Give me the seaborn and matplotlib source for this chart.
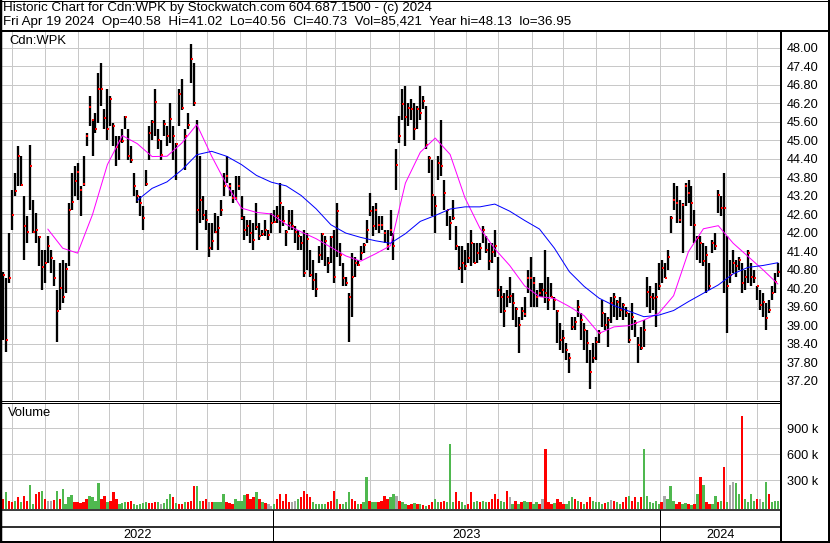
import numpy as np
import pandas as pd
import matplotlib
matplotlib.use("Agg")
import matplotlib.pyplot as plt
import seaborn as sns
from matplotlib.lines import Line2D

# ---------------- data (one bar per 2 trading days) ----------------
high = [40.74, 40.53, 41.99, 43.40, 43.94, 44.81, 44.48, 43.18, 42.53, 44.86,
        43.07, 42.64, 41.88, 41.45, 41.45, 41.88, 41.45, 41.12, 40.15, 41.01,
        41.12, 41.01, 42.96, 43.94, 44.16, 44.26, 43.51, 44.48, 45.24, 46.43,
        45.67, 45.89, 47.19, 47.51, 46.00, 46.65, 46.43, 45.56, 45.13, 45.13,
        45.35, 45.78, 45.35, 44.81, 43.94, 43.40, 43.18, 42.86, 44.05, 45.46,
        45.67, 46.65, 45.35, 45.02, 45.67, 45.46, 46.22, 45.46, 44.91, 46.65,
        46.97, 45.35, 45.89, 48.11, 47.51, 45.67, 44.48, 43.18, 42.75, 42.32,
        42.32, 42.64, 42.53, 43.07, 43.94, 44.48, 43.61, 43.40, 43.83, 43.83,
        43.18, 42.53, 42.42, 42.42, 42.32, 42.96, 42.32, 42.10, 42.42, 42.10,
        42.64, 42.75, 42.86, 43.61, 42.86, 42.10, 42.75, 42.75, 42.21, 42.10,
        41.88, 42.10, 41.99, 41.45, 41.12, 40.69, 41.56, 41.99, 41.88, 41.23,
        41.88, 42.10, 42.96, 41.66, 41.01, 40.58, 40.04, 41.34, 41.23, 41.12,
        41.56, 41.66, 42.42, 43.29, 42.86, 42.96, 42.53, 42.53, 42.10, 42.10,
        42.75, 41.99, 44.70, 45.78, 46.65, 46.75, 46.22, 46.32, 46.22, 46.11,
        46.75, 46.43, 46.11, 44.48, 44.37, 43.18, 44.48, 45.67, 43.72, 42.75,
        42.53, 43.07, 42.21, 41.56, 41.56, 41.45, 41.66, 42.10, 41.66, 41.66,
        41.66, 42.21, 41.88, 41.66, 41.66, 42.10, 41.23, 40.26, 40.04, 40.15,
        40.58, 40.04, 39.61, 39.28, 39.61, 39.93, 40.80, 41.23, 40.58, 40.15,
        40.37, 40.37, 41.45, 40.58, 40.37, 39.93, 39.50, 39.07, 38.85, 38.42,
        38.09, 39.28, 39.28, 39.82, 39.39, 39.07, 38.85, 38.20, 38.42, 38.63,
        38.85, 39.82, 39.39, 39.28, 39.93, 40.04, 39.82, 39.93, 39.72, 39.61,
        39.39, 39.72, 39.17, 38.63, 38.96, 39.17, 40.58, 40.26, 40.04, 40.37,
        41.01, 41.12, 41.01, 41.45, 42.53, 43.61, 43.51, 43.07, 42.96, 43.61,
        43.72, 43.51, 42.75, 41.88, 41.88, 41.66, 41.56, 41.01, 41.77, 41.99,
        43.40, 43.18, 43.94, 41.88, 41.12, 41.45, 41.12, 41.23, 41.01, 40.80,
        41.45, 41.01, 40.80, 40.26, 40.15, 40.04, 39.72, 39.82, 40.26, 40.69,
        41.02]
low = [38.52, 38.15, 40.37, 42.10, 43.18, 43.51, 43.51, 41.12, 41.66, 42.75,
       41.99, 41.66, 40.91, 40.15, 40.37, 41.01, 40.69, 40.26, 38.47, 39.50,
       39.72, 40.04, 40.91, 42.75, 43.18, 43.07, 42.53, 43.51, 44.81, 45.46,
       44.48, 45.24, 45.56, 46.11, 45.35, 45.02, 45.46, 44.81, 44.16, 44.37,
       44.91, 45.35, 44.37, 44.26, 43.18, 42.97, 42.53, 42.10, 43.51, 44.37,
       45.02, 45.13, 44.70, 44.37, 45.13, 44.81, 44.91, 44.37, 43.72, 45.46,
       45.97, 44.05, 45.35, 46.86, 46.11, 41.45, 42.32, 42.42, 42.10, 41.23,
       41.45, 41.99, 41.45, 42.53, 43.18, 43.61, 43.18, 42.96, 43.07, 43.40,
       42.42, 41.77, 41.88, 41.66, 41.45, 42.10, 41.77, 41.88, 41.88, 41.77,
       41.99, 42.32, 42.32, 41.99, 42.21, 41.56, 42.10, 42.10, 41.66, 41.45,
       41.45, 40.58, 40.80, 40.58, 40.15, 39.93, 41.01, 41.12, 40.91, 40.69,
       41.01, 40.37, 41.23, 40.91, 40.26, 40.26, 38.47, 39.28, 40.58, 40.91,
       41.12, 41.34, 41.66, 42.53, 41.88, 42.10, 41.99, 42.10, 41.66, 41.45,
       41.88, 41.12, 43.40, 44.91, 45.67, 44.81, 45.46, 45.67, 45.02, 45.35,
       45.67, 46.00, 44.70, 43.94, 42.53, 41.99, 43.72, 43.83, 42.75, 42.21,
       41.77, 42.42, 41.45, 40.80, 40.37, 40.80, 41.01, 40.91, 41.01, 41.01,
       41.12, 41.66, 41.34, 40.80, 41.01, 41.23, 39.93, 39.39, 38.96, 39.61,
       39.72, 39.17, 38.96, 38.09, 39.17, 39.28, 40.04, 39.61, 39.61, 39.61,
       39.93, 39.93, 39.72, 39.50, 39.93, 39.50, 38.42, 38.20, 38.09, 37.88,
       37.44, 38.85, 38.85, 39.28, 38.53, 38.20, 37.77, 36.95, 37.77, 37.88,
       38.42, 38.96, 38.85, 38.31, 39.07, 39.28, 39.17, 39.28, 39.17, 39.28,
       38.42, 38.85, 38.63, 37.77, 38.20, 38.31, 39.61, 39.39, 39.50, 38.96,
       40.15, 40.37, 40.53, 40.80, 41.99, 42.75, 42.32, 42.32, 41.34, 42.86,
       42.96, 42.21, 41.66, 41.12, 41.01, 40.91, 40.04, 40.15, 41.34, 41.45,
       42.64, 42.53, 40.04, 38.74, 40.37, 40.69, 40.58, 40.80, 40.04, 40.15,
       40.37, 40.26, 40.37, 39.82, 39.50, 39.28, 38.85, 39.39, 39.82, 40.04,
       40.56]
close = [40.64, 38.52, 40.53, 42.59, 43.37, 44.48, 43.56, 42.21, 42.04, 44.16,
         42.02, 42.10, 41.85, 40.88, 41.01, 41.56, 41.18, 40.53, 39.47, 40.22,
         39.93, 40.82, 42.75, 42.99, 43.67, 43.96, 43.40, 43.59, 45.15, 46.07,
         45.65, 45.35, 46.65, 46.65, 45.73, 45.35, 46.35, 45.46, 44.78, 44.97,
         44.97, 45.76, 44.48, 44.37, 43.51, 43.18, 42.96, 42.48, 43.59, 45.24,
         45.60, 46.24, 45.02, 44.53, 45.51, 45.13, 45.69, 45.13, 44.89, 46.49,
         46.05, 45.13, 45.48, 47.62, 46.21, 42.75, 43.07, 42.59, 42.42, 41.50,
         41.72, 42.04, 42.15, 42.75, 43.51, 43.83, 43.51, 43.13, 43.13, 43.51,
         42.48, 42.10, 42.21, 41.99, 41.77, 42.18, 41.88, 41.97, 42.10, 41.94,
         42.32, 42.34, 42.53, 42.96, 42.37, 42.04, 42.32, 42.21, 42.02, 41.88,
         41.66, 40.69, 41.79, 40.64, 40.47, 40.17, 41.29, 41.97, 41.72, 41.01,
         41.86, 40.56, 42.69, 41.29, 40.53, 40.37, 39.93, 40.58, 41.01, 40.96,
         41.34, 41.61, 42.10, 42.69, 42.21, 42.75, 42.26, 42.26, 41.99, 41.56,
         42.10, 41.56, 44.21, 45.13, 46.16, 45.76, 46.05, 46.00, 45.37, 46.00,
         45.89, 46.27, 44.83, 44.43, 43.23, 42.86, 44.26, 44.16, 43.29, 42.75,
         42.32, 42.48, 41.56, 40.85, 41.01, 40.91, 41.18, 41.66, 41.01, 41.34,
         41.50, 42.10, 41.45, 41.07, 41.39, 41.56, 40.15, 39.93, 39.45, 39.93,
         39.96, 39.72, 39.52, 39.01, 39.45, 39.37, 40.53, 40.53, 40.37, 39.93,
         40.04, 40.15, 40.04, 39.82, 39.93, 39.82, 39.47, 38.52, 38.58, 38.20,
         37.93, 38.96, 39.12, 39.61, 39.17, 38.85, 38.42, 37.50, 37.93, 38.47,
         38.74, 39.39, 39.01, 39.17, 39.72, 39.93, 39.77, 39.50, 39.66, 39.39,
         38.52, 39.28, 39.07, 38.36, 38.25, 38.85, 40.09, 39.93, 39.88, 39.93,
         40.28, 40.85, 40.53, 41.23, 42.48, 43.07, 42.96, 42.42, 42.91, 43.51,
         43.29, 42.96, 42.26, 41.83, 41.66, 41.07, 41.29, 40.26, 41.66, 41.56,
         43.23, 42.80, 42.80, 40.26, 40.64, 41.01, 40.91, 41.12, 40.37, 40.58,
         41.34, 40.58, 40.53, 40.26, 39.66, 39.77, 39.23, 39.50, 40.04, 40.42,
         40.73]
volume_k = [85, 162, 65, 46, 65, 104, 46, 123, 65, 246, 27, 142, 162, 181, 85, 65, 65, 77, 181, 85,
            200, 27, 104, 131, 46, 46, 38, 54, 85, 123, 104, 65, 270, 85, 123, 46, 65, 162, 85, 27,
            38, 54, 46, 65, 27,
            15, 27, 38, 46, 38, 38, 46, 46, 27, 38, 85, 142, 104, 38, 27, 27, 46, 46, 65, 239,
            239, 65, 65, 85, 46, 46, 46, 46, 46, 142, 46, 38, 27, 85, 65, 65, 131, 142, 85, 104,
            162, 85, 46,
            38, 27, 8, 27, 85, 142, 65, 142, 46, 46, 65, 85, 104, 181, 142, 104, 46, 27, 27, 27,
            27, 46, 65, 181, 85, 27, 27, 46, 162, 85, 65, 27, 27, 46, 335, 65, 46, 46, 46, 65,
            123, 85, 104, 142, 123, 65, 46, 27, 15, 27,
            38, 27, 27, 15, 8, 15, 46, 85, 46, 46, 65, 46, 720, 46, 162, 65, 46, 15, 27, 162,
            46, 65, 46, 65, 46, 46, 85, 142, 85, 65, 46, 181, 104, 27, 65, 27, 46, 65, 54, 46,
            27, 46, 27, 85, 662, 46, 27, 38, 85, 46, 27, 27, 65, 104, 85, 65, 46, 27, 46, 104,
            65, 46, 46, 27, 38, 46, 77, 65, 46, 27, 46, 104, 123, 65, 104, 46, 104, 662, 123, 46,
            38, 65, 27, 46, 123, 85, 239, 65, 27, 46, 27, 38, 27, 15, 27, 142, 335, 246, 46, 27,
            27, 123, 46, 65, 450, 46, 246, 277, 270, 142, 1047, 85, 54, 142, 65, 85, 85, 46, 277, 142,
            46, 65, 65]
# g = up day, r = down day, n = unchanged
volume_dir = ("rgrrgrgrrg" "grrgrnnrgr" "ggggrrrrrg" "gggrrgrrrg" "ggrrgggggr"
              "rrgngggrgr" "rgrrrggrrn" "rggggrrrgg" "ggrrrgrgrn" "ngrrrrrnng"
              "rrrrgggggr" "rrgrgggrrg" "rggrggrrrr" "ggnrggrrgr" "grgrrggrrg"
              "ggrrggrrgg" "rggrrrrggr" "ngrgrggrgg" "rnrrrgrrrg" "ggrgrgrrgg"
              "ggrgnrggrr" "grrgrggggg" "grngggrrgg" "rgrgrgrrgg" "rgrgnnggrg"
              "gggrnggrgg" "g")
# moving averages, one reading every 5 bars
ma_short = [42.12, 41.50, 41.34, 42.59, 44.21, 45.15, 44.89, 44.47, 44.48, 44.91,
            45.51, 44.48, 43.56, 42.80, 42.66, 42.61, 42.27, 42.03, 41.81, 41.53,
            41.25, 41.08, 41.32, 41.58, 43.61, 44.61, 45.07, 44.54, 43.13, 42.15,
            41.48, 40.94, 40.28, 39.93, 39.87, 39.61, 39.31, 38.74, 38.95, 38.99,
            39.17, 39.39, 39.96, 41.39, 42.13, 42.23, 41.66, 41.23, 40.80, 40.34]
ma_long = [43.05, 43.44, 43.65, 44.04, 44.53, 44.64, 44.48, 44.21, 43.86, 43.64,
           43.52, 43.21, 42.78, 42.26, 41.99, 41.85, 41.74, 41.66, 41.97, 42.37,
           42.56, 42.77, 42.84, 42.84, 42.93, 42.70, 42.40, 42.12, 41.50, 40.74,
           40.26, 39.88, 39.64, 39.46, 39.28, 39.33, 39.48, 39.77, 40.04, 40.31,
           40.67, 40.88, 40.94, 41.03]
ma_short_first_bar = 15
ma_long_first_bar = 45
ma_every = 5

price_ticks = [48.00, 47.40, 46.80, 46.20, 45.60, 45.00, 44.40, 43.80, 43.20, 42.60,
               42.00, 41.40, 40.80, 40.20, 39.60, 39.00, 38.40, 37.80, 37.20]
volume_ticks = [300, 600, 900]
volume_tick_labels = ["300 k", "600 k", "900 k"]
header1 = "Historic Chart for Cdn:WPK by Stockwatch.com 604.687.1500 - (c) 2024"
header2 = ("Fri Apr 19 2024  Op=40.58  Hi=41.02  Lo=40.56  Cl=40.73  "
           "Vol=85,421  Year hi=48.13  lo=36.95")
symbol = "Cdn:WPK"
last_day = "2024-04-19"

N = len(close)
assert len(high) == N and len(low) == N and len(volume_k) == N and len(volume_dir) == N

# trading-day axis: bar k = every second business day ending at last_day
all_days = pd.bdate_range(end=last_day, periods=2 * N - 1)
xb = np.arange(N)
month_pos = [i / 2 for i in range(1, len(all_days)) if all_days[i].month != all_days[i - 1].month]
year_pos = [i / 2 for i in range(1, len(all_days)) if all_days[i].year != all_days[i - 1].year]
years = sorted(set(all_days.year))

# ---------------- figure ----------------
sns.set_style("white")
plt.rcParams["font.family"] = ["Liberation Sans", "DejaVu Sans"]
W, H = 830, 543
fig = plt.figure(figsize=(W / 100, H / 100), dpi=100)
PX = 0.72  # points per pixel


def box(x0, y0, x1, y1):
    return [x0 / W, 1 - y1 / H, (x1 - x0) / W, (y1 - y0) / H]


XL = ((2 - 3.1) / 2.98, (781 - 3.1) / 2.98)
GRID = "#c8c8c8"
FS = 9.2
FS_HEAD = 9.6

# price panel
ax = fig.add_axes(box(2, 31, 781, 400))
ax.set_xlim(*XL)
ax.set_ylim(36.58, 48.54)
ax.set_yticks(price_ticks)
ax.set_yticklabels([f"{t:.2f}" for t in price_ticks])
ax.yaxis.tick_right()
ax.set_xticks(month_pos)
ax.tick_params(axis="x", length=0, labelbottom=False)
ax.tick_params(axis="y", length=0, pad=6 * PX, labelsize=FS, labelcolor="black")
ax.grid(True, color=GRID, lw=1 * PX)
ax.set_axisbelow(True)
for s in ax.spines.values():
    s.set_visible(False)

ax.vlines(xb, low, high, color="black", lw=2.3 * PX, zorder=2)
sns.scatterplot(x=xb + 0.3, y=close, marker="s", s=2.4, color="#ff0000",
                linewidth=0, ax=ax, zorder=3)
xs = np.arange(ma_short_first_bar, N, ma_every)[:len(ma_short)]
xl = np.arange(ma_long_first_bar, N, ma_every)[:len(ma_long)]
sns.lineplot(x=xs, y=ma_short, color="#ff00ff", lw=1.0 * PX, ax=ax, estimator=None, zorder=4)
sns.lineplot(x=xl, y=ma_long, color="#0000ff", lw=1.0 * PX, ax=ax, estimator=None, zorder=4)
ax.set_xlabel("")
ax.set_ylabel("")

# volume panel
av = fig.add_axes(box(2, 403, 781, 509))
av.set_xlim(*XL)
vbottom = -31
av.set_ylim(vbottom, 1192)
av.set_yticks(volume_ticks)
av.set_yticklabels(volume_tick_labels)
av.yaxis.tick_right()
av.set_xticks(month_pos)
av.tick_params(axis="x", length=0, labelbottom=False)
av.tick_params(axis="y", length=0, pad=6 * PX, labelsize=FS, labelcolor="black")
av.grid(True, color=GRID, lw=1 * PX)
av.set_axisbelow(True)
for s in av.spines.values():
    s.set_visible(False)
cmap = {"g": "#4fb84f", "r": "#ff0000", "n": "#a8a8a8"}
vcol = [cmap[c] for c in volume_dir]
av.bar(xb, np.array(volume_k) - vbottom, bottom=vbottom, width=0.8, color=vcol,
       linewidth=0, zorder=2)

# date strip
ad = fig.add_axes(box(2, 510, 781, 541))
ad.set_xlim(*XL)
ad.set_ylim(0, 1)
ad.axis("off")
for p in year_pos:
    ad.axvline(p, color="black", lw=1 * PX)
edges = [XL[0]] + year_pos + [XL[1]]
for yr, a, b in zip(years, edges[:-1], edges[1:]):
    ad.text((a + b) / 2, (541 - 534.5) / 31, str(yr), ha="center", va="center",
            fontsize=FS, color="black")

# texts
fig.text(3 / W, 1 - 2 / H, header1, ha="left", va="top", fontsize=FS_HEAD, color="black")
fig.text(3 / W, 1 - 16 / H, header2, ha="left", va="top", fontsize=FS_HEAD, color="black")
fig.text(9 / W, 1 - 35 / H, symbol, ha="left", va="top", fontsize=9.4, color="black")
fig.text(8 / W, 1 - 407 / H, "Volume", ha="left", va="top", fontsize=9.4, color="black")


# frame lines (pixels)
def fline(x0, y0, x1, y1, lw):
    fig.add_artist(Line2D([x0 / W, x1 / W], [1 - y0 / H, 1 - y1 / H],
                          transform=fig.transFigure, color="black", lw=lw * PX,
                          solid_capstyle="butt"))


fline(1.2, 0, 1.2, 543, 2.5)
fline(0, 0.5, 830, 0.5, 1)
fline(829, 0, 829, 543, 2)
fline(0, 541.8, 830, 541.8, 2)
fline(0, 30.5, 830, 30.5, 2)
fline(781, 30, 781, 542, 2)
fline(0, 401, 781, 401, 1)
fline(0, 403.3, 781, 403.3, 1)
fline(0, 509.7, 781, 509.7, 1.5)
fline(0, 527.4, 781, 527.4, 1.6)

fig.savefig("out.png", dpi=100)
